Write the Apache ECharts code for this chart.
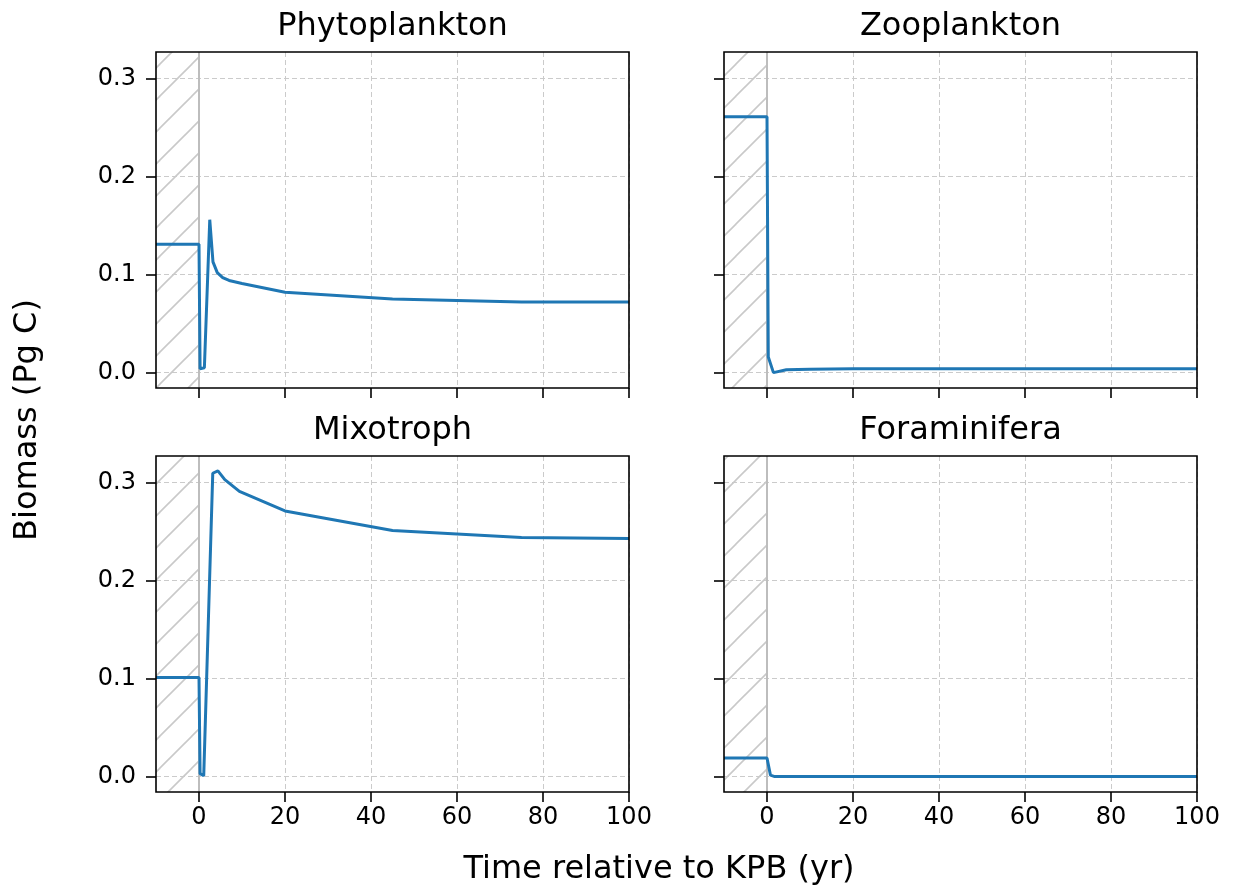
<!DOCTYPE html>
<html>
<head>
<meta charset="utf-8">
<script src="https://cdn.jsdelivr.net/npm/echarts@6/dist/echarts.min.js"></script>
<style>html,body{margin:0;padding:0;background:#fff;}#c{width:1235px;height:892px;}</style>
</head>
<body>
<div id="c"></div>
<script>
// ---- data ----
const panelTitles = ['Phytoplankton', 'Zooplankton', 'Mixotroph', 'Foraminifera'];
const xTicks = [0, 20, 40, 60, 80, 100];
const yTicks = [0.0, 0.1, 0.2, 0.3];
const phytoT = [-10, 0, 0.25, 1.25, 2.5, 3.25, 4.25, 5.5, 7, 10, 20, 45, 75, 100];
const phytoV = [0.131, 0.131, 0.004, 0.005, 0.156, 0.113, 0.102, 0.097, 0.094, 0.091, 0.082, 0.075, 0.072, 0.072];
const zooT = [-10, 0, 0.3, 1.5, 4.5, 10, 20, 100];
const zooV = [0.261, 0.261, 0.016, 0.0, 0.003, 0.0035, 0.004, 0.004];
const mixoT = [-10, 0, 0.25, 1.1, 3.2, 4.4, 6, 9.4, 20, 45, 75, 100];
const mixoV = [0.101, 0.101, 0.003, 0.001, 0.3095, 0.312, 0.303, 0.291, 0.271, 0.251, 0.244, 0.243];
const foramT = [-10, 0, 0.8, 1.8, 100];
const foramV = [0.019, 0.019, 0.0015, 0.0, 0.0];

const seriesT = [phytoT, zooT, mixoT, foramT];
const seriesV = [phytoV, zooV, mixoV, foramV];

// ---- layout ----
const FONT = 'DejaVu Sans';
const grids = [
  {left: 156, top: 52, width: 473, height: 336},
  {left: 724, top: 52, width: 473, height: 336},
  {left: 156, top: 456, width: 473, height: 336},
  {left: 724, top: 456, width: 473, height: 336}
];

// hatch pattern
const pc = document.createElement('canvas');
const S = 32;
pc.width = S; pc.height = S;
const g = pc.getContext('2d');
g.strokeStyle = '#c9c9c9';
g.lineWidth = 1.6;
for (let k = -1; k <= 1; k++) {
  g.beginPath();
  g.moveTo(k * S - 2, S + 2);
  g.lineTo(k * S + S + 2, -2);
  g.stroke();
}

const xAxes = [], yAxes = [], series = [], graphics = [];
grids.forEach((gr, i) => {
  const isTop = i < 2, isLeft = i % 2 === 0;
  xAxes.push({
    type: 'value', gridIndex: i, min: -10, max: 100, position: 'bottom',
    axisLine: {show: false, onZero: false},
    axisTick: {show: true, inside: false, length: 10, customValues: xTicks, lineStyle: {color: '#000', width: 1.6}},
    axisLabel: {show: !isTop, customValues: xTicks, margin: 14, fontFamily: FONT, fontSize: 24, color: '#000'},
    splitLine: {show: true, customValues: xTicks, lineStyle: {color: '#cbcbcb', width: 1, type: [5, 3]}}
  });
  yAxes.push({
    type: 'value', gridIndex: i, min: -0.0157, max: 0.3271, position: 'left',
    axisLine: {show: false, onZero: false},
    axisTick: {show: true, inside: false, length: 10, customValues: yTicks, lineStyle: {color: '#000', width: 1.6}},
    axisLabel: {show: isLeft, customValues: yTicks, margin: 20, fontFamily: FONT, fontSize: 24, color: '#000',
      formatter: v => v.toFixed(1)},
    splitLine: {show: true, customValues: yTicks, lineStyle: {color: '#cbcbcb', width: 1, type: [5, 3]}}
  });
  const data = seriesT[i].map((t, j) => [t, seriesV[i][j]]);
  series.push({
    type: 'line', xAxisIndex: i, yAxisIndex: i, data: data,
    showSymbol: false, symbol: 'none', animation: false, silent: true,
    lineStyle: {color: '#1f77b4', width: 3},
    z: 5,
    markArea: {
      silent: true,
      itemStyle: {color: {image: pc, repeat: 'repeat'}, borderWidth: 0},
      data: [[{xAxis: -10}, {xAxis: 0}]]
    },
    markLine: {
      silent: true, symbol: 'none', label: {show: false},
      lineStyle: {color: '#bdbdbd', width: 2, type: 'solid'},
      data: [{xAxis: 0}]
    }
  });
  graphics.push({
    type: 'rect', z: 100, silent: true,
    shape: {x: gr.left, y: gr.top, width: gr.width, height: gr.height},
    style: {fill: null, stroke: '#000', lineWidth: 1.6}
  });
  graphics.push({
    type: 'text', x: gr.left + gr.width / 2, y: gr.top - 25,
    style: {text: panelTitles[i], font: '32px "DejaVu Sans"', fill: '#000', align: 'center', verticalAlign: 'middle'}
  });
});

graphics.push({
  type: 'text', x: 28, y: 420, rotation: Math.PI / 2,
  style: {text: 'Biomass (Pg C)', font: '32px "DejaVu Sans"', fill: '#000', align: 'center', verticalAlign: 'middle'}
});
graphics.push({
  type: 'text', x: 659, y: 870,
  style: {text: 'Time relative to KPB (yr)', font: '32px "DejaVu Sans"', fill: '#000', align: 'center', verticalAlign: 'middle'}
});

const chart = echarts.init(document.getElementById('c'), null, {renderer: 'canvas'});
chart.setOption({
  backgroundColor: '#fff',
  animation: false,
  grid: grids.map(gr => Object.assign({show: false, containLabel: false}, gr)),
  xAxis: xAxes,
  yAxis: yAxes,
  series: series,
  graphic: graphics
});
</script>
</body>
</html>
